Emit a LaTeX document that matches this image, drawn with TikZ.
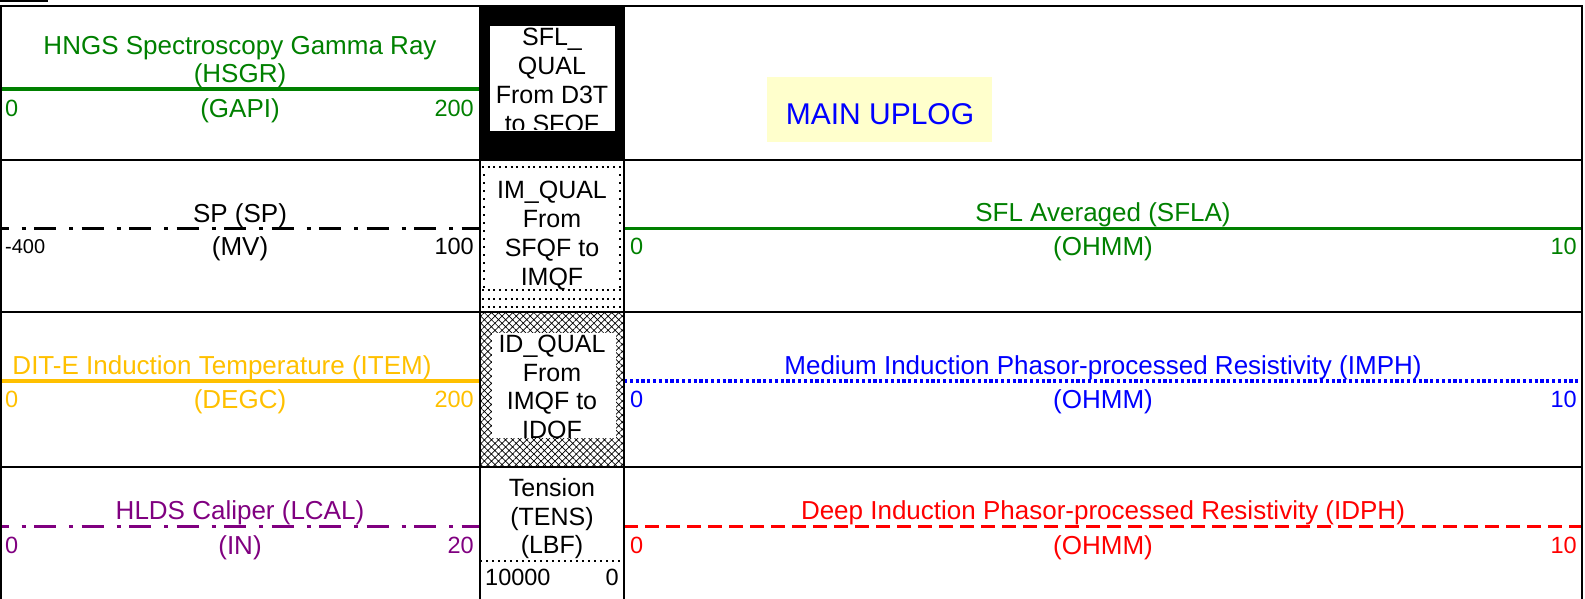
\documentclass[tikz,border=0pt]{standalone}
\usepackage{fontspec}
\setmainfont{Liberation Sans}
\usetikzlibrary{patterns.meta}

\definecolor{curvegreen}{RGB}{0,128,0}
\definecolor{curveorange}{RGB}{255,192,0}
\definecolor{curvepurple}{RGB}{128,0,128}
\definecolor{curveblue}{RGB}{0,0,255}
\definecolor{curvered}{RGB}{255,0,0}
\definecolor{uplogyellow}{RGB}{255,255,204}

\begin{document}
\begin{tikzpicture}[x=1pt,y=-1pt]
        \tikzstyle{lbl}=[inner sep=0pt, text height=18.6pt, text depth=0pt, font=\fontsize{26}{30}\selectfont]
        \tikzstyle{flag}=[inner sep=0pt, text height=17.9pt, text depth=0pt, font=\fontsize{25}{29}\selectfont]
        \tikzstyle{scale num}=[inner sep=0pt, text height=16.8pt, text depth=0pt, font=\fontsize{23.5}{27}\selectfont]
        \tikzstyle{small num}=[scale num, text height=14.3pt, font=\fontsize{20}{24}\selectfont]
        \tikzstyle{grid line}=[line width=2.2pt]
        \tikzstyle{curve}=[line width=3.5pt]
        \tikzstyle{dash dot}=[curve, dash pattern=on 22pt off 13pt on 4pt off 8.5pt, dash phase=14.5pt]
        \tikzstyle{dotted curve}=[curve, dash pattern=on 3.2pt off 2.6pt]
        \tikzstyle{dashed curve}=[curve, dash pattern=on 14pt off 7pt]
        \tikzstyle{dot row}=[line width=2pt, dash pattern=on 2pt off 3.7pt]
        \tikzstyle{dot col}=[line width=2pt, dash pattern=on 2pt off 6pt]

        \useasboundingbox (0,0) rectangle (1585,599);

        % Quality flag column
        \fill[black] (480,6) rectangle (624,160);
        \fill[white] (490,26) rectangle (615,131);
        \foreach \y in {167,290,298.5,307}
            \draw[dot row] (482,\y) -- (624,\y);
        \foreach \x in {483.5,620}
            \draw[dot col] (\x,174) -- (\x,288);
        \fill[pattern={Hatch[angle=45,distance=5pt,line width=0.7pt]}] (480,312) rectangle (624,467);
        \fill[white] (492,333) rectangle (616,438);

        \begin{scope}
            \clip (490,26) rectangle (615,130);
            \foreach \txt [count=\i from 0] in {SFL\_, QUAL, From D3T, to SFQF}
                \node[flag] (SFQ-\i) at (552,{37+29*\i}) {\txt};
        \end{scope}
        \foreach \txt [count=\i from 0] in {IM\_QUAL, From, SFQF to, IMQF}
            \node[flag] (IMQ-\i) at (552,{190+28.7*\i}) {\txt};
        \begin{scope}
            \clip (492,333) rectangle (616,438);
            \foreach \txt [count=\i from 0] in {ID\_QUAL, From, IMQF to, IDQF}
                \node[flag] (IDQ-\i) at (552,{344+28.5*\i}) {\txt};
        \end{scope}

        % Tension
        \foreach \txt [count=\i from 0] in {Tension, (TENS), (LBF)}
            \node[flag] (TENS-\i) at (552,{487.5+28.7*\i}) {\txt};
        \draw[line width=2pt, dash pattern=on 2pt off 4pt] (480,561) -- (624,561);
        \node[scale num, anchor=west] (TENS-lo) at (485,577.5) {10000};
        \node[scale num, anchor=east] (TENS-hi) at (619,577.5) {0};

        % Left track
        \node[lbl, text=curvegreen] (HSGR-name) at (240,45.5) {HNGS Spectroscopy Gamma Ray};
        \node[lbl, text=curvegreen] (HSGR-mnem) at (240,73) {(HSGR)};
        \draw[curve, curvegreen] (1,89) -- (480,89);
        \node[scale num, anchor=west, text=curvegreen] (HSGR-lo) at (5,108) {0};
        \node[lbl, text=curvegreen] (HSGR-unit) at (240,108) {(GAPI)};
        \node[scale num, anchor=east, text=curvegreen] (HSGR-hi) at (474,108) {200};

        \node[lbl] (SP-name) at (240,213) {SP (SP)};
        \draw[dash dot, black] (1,228.5) -- (480,228.5);
        \node[small num, anchor=west] (SP-lo) at (5,246) {-400};
        \node[lbl] (SP-unit) at (240,246) {(MV)};
        \node[scale num, anchor=east] (SP-hi) at (474,246) {100};

        \node[lbl, text=curveorange] (ITEM-name) at (222,365) {DIT-E Induction Temperature (ITEM)};
        \draw[curve, curveorange] (1,381) -- (480,381);
        \node[scale num, anchor=west, text=curveorange] (ITEM-lo) at (5,399) {0};
        \node[lbl, text=curveorange] (ITEM-unit) at (240,399) {(DEGC)};
        \node[scale num, anchor=east, text=curveorange] (ITEM-hi) at (474,399) {200};

        \node[lbl, text=curvepurple] (LCAL-name) at (240,510.5) {HLDS Caliper (LCAL)};
        \draw[dash dot, curvepurple] (1,526.5) -- (480,526.5);
        \node[scale num, anchor=west, text=curvepurple] (LCAL-lo) at (5,545) {0};
        \node[lbl, text=curvepurple] (LCAL-unit) at (240,545) {(IN)};
        \node[scale num, anchor=east, text=curvepurple] (LCAL-hi) at (474,545) {20};

        % Right track
        \fill[uplogyellow] (767,77) rectangle (992,142);
        \node[inner sep=0pt, text height=21.5pt, text depth=0pt, text=curveblue,
              font=\fontsize{30}{36}\selectfont] (uplog) at (880,113.5) {MAIN UPLOG};

        \node[lbl, text=curvegreen] (SFLA-name) at (1103,212) {SFL Averaged (SFLA)};
        \draw[curve, curvegreen] (624,228.5) -- (1583,228.5);
        \node[lbl, text=curveblue] (IMPH-name) at (1103,365) {Medium Induction Phasor-processed Resistivity (IMPH)};
        \draw[dotted curve, curveblue] (624,381) -- (1583,381);
        \node[lbl, text=curvered] (IDPH-name) at (1103,510.5) {Deep Induction Phasor-processed Resistivity (IDPH)};
        \draw[dashed curve, curvered] (624,526.5) -- (1583,526.5);

        \foreach \name / \y / \col in {SFLA/246/curvegreen, IMPH/399/curveblue, IDPH/545/curvered} {
            \node[scale num, anchor=west, text=\col] (\name-lo) at (630,\y) {0};
            \node[lbl, text=\col] (\name-unit) at (1103,\y) {(OHMM)};
            \node[scale num, anchor=east, text=\col] (\name-hi) at (1577,\y) {10};
        }

        % Grid
        \fill (0,0) rectangle (48,2.5);
        \draw[grid line] (0,6) -- (1583,6);
        \draw[grid line] (1,6) -- (1,599);
        \draw[grid line] (1582,6) -- (1582,599);
        \foreach \x in {480,624}
            \draw[grid line] (\x,6) -- (\x,599);
        \foreach \y in {160,312,467}
            \draw[grid line] (0,\y) -- (1583,\y);
\end{tikzpicture}
\end{document}
